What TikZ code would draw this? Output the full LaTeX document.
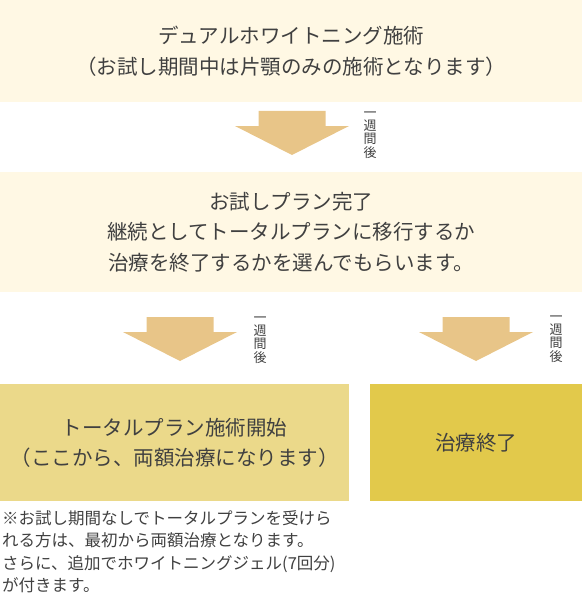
\documentclass[tikz,border=0pt]{standalone}
\usepackage{fontspec}
\setmainfont{Noto Sans CJK JP}
\usetikzlibrary{positioning}

\definecolor{creamfill}{HTML}{FFF8E4}
\definecolor{arrowfill}{HTML}{E8C588}
\definecolor{totalfill}{HTML}{EBD98A}
\definecolor{finishfill}{HTML}{E2C94B}
\definecolor{textgray}{HTML}{404040}

\begin{document}
\begin{tikzpicture}[
  x=1pt,y=-1pt,
  every node/.style={text=textgray,inner sep=0pt},
  box/.style={anchor=north west,align=center,font=\fontsize{20.5}{30.5}\selectfont},
  weeklabel/.style={align=center,font=\fontsize{13}{13.4}\selectfont},
  blockarrow/.pic={
    \fill[arrowfill] (-33.5,0) -- (33.5,0) -- (33.5,15) -- (57,15)
      -- (0,44) -- (-57,15) -- (-33.5,15) -- cycle;},
  ]
  \useasboundingbox (0,0) rectangle (582,607);
  % boxes
  \node[box,fill=creamfill,minimum width=582,minimum height=102] (trial) at (0,0)
    {デュアルホワイトニング施術\\（お試し期間中は片顎のみの施術となります）};
  \node[box,fill=creamfill,minimum width=582,minimum height=120] (decide) at (0,172)
    {お試しプラン完了\\継続としてトータルプランに移行するか\\治療を終了するかを選んでもらいます。};
  \node[box,fill=totalfill,minimum width=349,minimum height=117] (total) at (0,384)
    {トータルプラン施術開始\\（ここから、両額治療になります）};
  \node[box,fill=finishfill,minimum width=212,minimum height=117] (finish) at (370,384)
    {治療終了};
  % arrows
  \coordinate (arrowA) at (292,111);
  \coordinate (arrowB) at (180,317);
  \coordinate (arrowC) at (476,317);
  \pic at (arrowA) {blockarrow};
  \pic at (arrowB) {blockarrow};
  \pic at (arrowC) {blockarrow};
  \node[weeklabel] (weekA) at (370,135) {一\\週\\間\\後};
  \node[weeklabel] (weekB) at (260,340) {一\\週\\間\\後};
  \node[weeklabel] (weekC) at (556,339) {一\\週\\間\\後};
  % note
  \node[anchor=north west,align=left,font=\fontsize{16.5}{22.5}\selectfont] (note) at (2,510)
    {※お試し期間なしでトータルプランを受けら\\れる方は、最初から両額治療となります。\\さらに、追加でホワイトニングジェル(7回分)\\が付きます。};
\end{tikzpicture}
\end{document}
